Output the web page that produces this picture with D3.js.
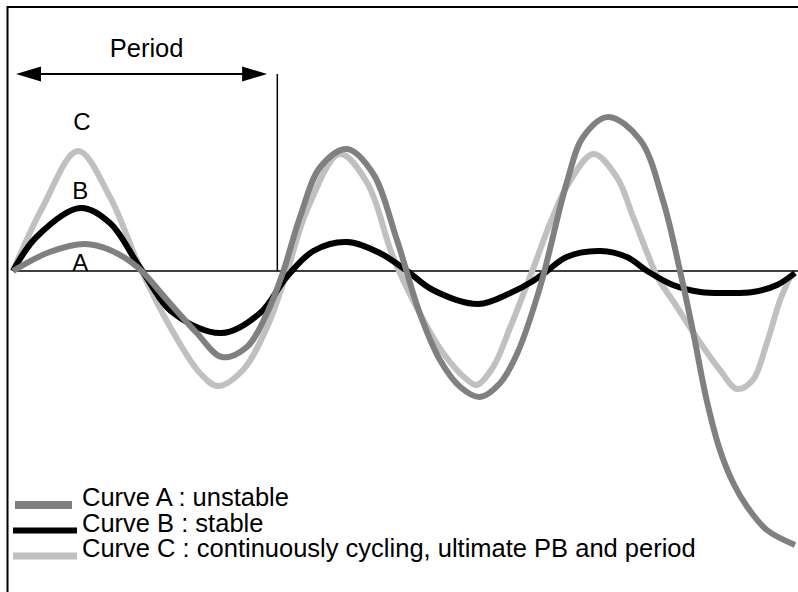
<!DOCTYPE html>
<html>
<head>
<meta charset="utf-8">
<script src="https://cdn.jsdelivr.net/npm/d3@7"></script>
<style>
  html, body { margin: 0; padding: 0; background: #fff; }
  svg { display: block; }
  text { font-family: "Liberation Sans", Arial, Helvetica, sans-serif; fill: #000; }
</style>
</head>
<body>
<svg id="chart" width="798" height="592"></svg>
<script>
// ---- Data (time 0..100, response amplitude, 0 = set point) ----
const curveAT = [0, 4.7, 9.2, 12.4, 15.9, 19.7, 23.5, 26.7, 29.9, 32.5, 34.5, 36.7, 39.3, 42.7, 46.0, 49.1, 52.0, 54.6, 57.2, 59.7, 62.3, 64.5, 67.4, 70.8, 72.9, 76.1, 80.2, 83.1, 85.3, 87.0, 88.7, 90.4, 92.1, 93.9, 96.4, 100];
const curveAV = [0, 1.9, 2.7, 2.1, 0.4, -2.9, -6.2, -8.6, -7.6, -4.2, -0.2, 5.4, 10.4, 12.2, 9.8, 3.1, -4.2, -8.9, -11.6, -12.6, -11.2, -8.2, -1.6, 8.8, 13.4, 15.4, 13.1, 7.1, 0, -6.2, -12.9, -17.9, -21.2, -23.6, -25.9, -27.4];

const curveBT = [0, 3.0, 8.6, 12.4, 16.2, 20.5, 26.7, 31.6, 35.0, 38.4, 42.7, 46.9, 50.4, 53.7, 59.5, 63.6, 66.5, 68.3, 70.8, 75.1, 78.5, 81.1, 84.4, 87.9, 91.3, 94.6, 97.7, 100];
const curveBV = [0, 3.4, 6.3, 4.8, 0.4, -4.2, -6.2, -4.2, -0.6, 2.0, 2.9, 1.8, 0, -1.9, -3.3, -2.2, -1.0, 0, 1.4, 2.0, 1.4, 0, -1.4, -2.1, -2.2, -2.1, -1.4, -0.2];

const curveCT = [0, 3.8, 8.3, 12.4, 16.2, 20.1, 23.9, 26.2, 29.4, 32.5, 35.0, 37.6, 41.8, 45.3, 48.6, 52.0, 55.0, 58.1, 59.3, 61.4, 63.6, 66.4, 68.7, 70.8, 74.2, 77.2, 79.3, 81.1, 82.4, 84.9, 87.9, 90.4, 92.6, 94.6, 96.4, 98.1, 99.4];
const curveCV = [0, 6.4, 12.0, 7.4, 0.4, -5.6, -10.2, -11.5, -9.9, -5.6, -0.2, 6.1, 11.7, 8.8, 1.4, -4.2, -8.2, -10.9, -11.4, -9.6, -5.6, 0, 4.8, 8.4, 11.7, 9.4, 5.4, 1.8, -0.6, -3.6, -7.2, -9.9, -11.8, -10.9, -7.2, -2.9, -0.6];

const periodStart = 0, periodEnd = 32.5;   // arrow span
const ultimateMark = 33.8;                 // vertical marker
const curveLabels = [
  { text: "C", t: 8.8, v: 14.1 },
  { text: "B", t: 8.6, v: 7.2 },
  { text: "A", t: 8.6, v: 0 }
];
const legendLabels = [
  "Curve A : unstable",
  "Curve B : stable",
  "Curve C : continuously cycling, ultimate PB and period"
];
const seriesColors = ["#808080", "#000000", "#c0c0c0"];

// ---- Scales ----
const x = d3.scaleLinear().domain([0, 100]).range([13, 795]);
const y = d3.scaleLinear().domain([-30, 15]).range([571, 121]);

const svg = d3.select("#chart");

// frame
svg.append("rect").attr("x", 7.5).attr("y", 7).attr("width", 800).attr("height", 600)
  .attr("fill", "none").attr("stroke", "#000").attr("stroke-width", 2);

// baseline (set point)
svg.append("line").attr("x1", x(0)).attr("x2", 798).attr("y1", y(0)).attr("y2", y(0))
  .attr("stroke", "#000").attr("stroke-width", 1.5);

// vertical marker
svg.append("line").attr("x1", x(ultimateMark)).attr("x2", x(ultimateMark))
  .attr("y1", 74).attr("y2", y(0)).attr("stroke", "#000").attr("stroke-width", 1.5);

// period arrow
const ay = 74;
const xs = x(periodStart) + 3, xe = x(periodEnd);
svg.append("line").attr("x1", xs + 20).attr("x2", xe - 20).attr("y1", ay).attr("y2", ay)
  .attr("stroke", "#000").attr("stroke-width", 2);
svg.append("path").attr("d", `M${xs},${ay} L${xs + 25},${ay - 7.5} L${xs + 25},${ay + 7.5} Z`).attr("fill", "#000");
svg.append("path").attr("d", `M${xe},${ay} L${xe - 25},${ay - 7.5} L${xe - 25},${ay + 7.5} Z`).attr("fill", "#000");
svg.append("text").attr("x", (xs + xe) / 2 + 5).attr("y", 57).attr("text-anchor", "middle")
  .attr("font-size", 25.5).text("Period");

// curves
const line = d3.line().x(d => x(d[0])).y(d => y(d[1])).curve(d3.curveCatmullRom.alpha(0.5));
const series = [
  { t: curveCT, v: curveCV, color: seriesColors[2] },
  { t: curveBT, v: curveBV, color: seriesColors[1] },
  { t: curveAT, v: curveAV, color: seriesColors[0] }
];
series.forEach(s => {
  svg.append("path").datum(s.t.map((t, i) => [t, s.v[i]]))
    .attr("d", line).attr("fill", "none").attr("stroke", s.color)
    .attr("stroke-width", 6).attr("stroke-linejoin", "round").attr("stroke-linecap", "butt");
});

// curve labels
curveLabels.forEach(l => {
  svg.append("text").attr("x", x(l.t)).attr("y", y(l.v)).attr("text-anchor", "middle")
    .attr("font-size", 24).text(l.text);
});

// legend
const legY = [505, 530.5, 556];
const swatch = [[15, 72, 8], [13, 77, 6], [13, 77, 7]];
legendLabels.forEach((lab, i) => {
  svg.append("line").attr("x1", swatch[i][0]).attr("x2", swatch[i][1])
    .attr("y1", legY[i]).attr("y2", legY[i])
    .attr("stroke", seriesColors[i]).attr("stroke-width", swatch[i][2]);
  svg.append("text").attr("x", 82).attr("y", legY[i] + 1).attr("font-size", 25.5).text(lab);
});
</script>
</body>
</html>
